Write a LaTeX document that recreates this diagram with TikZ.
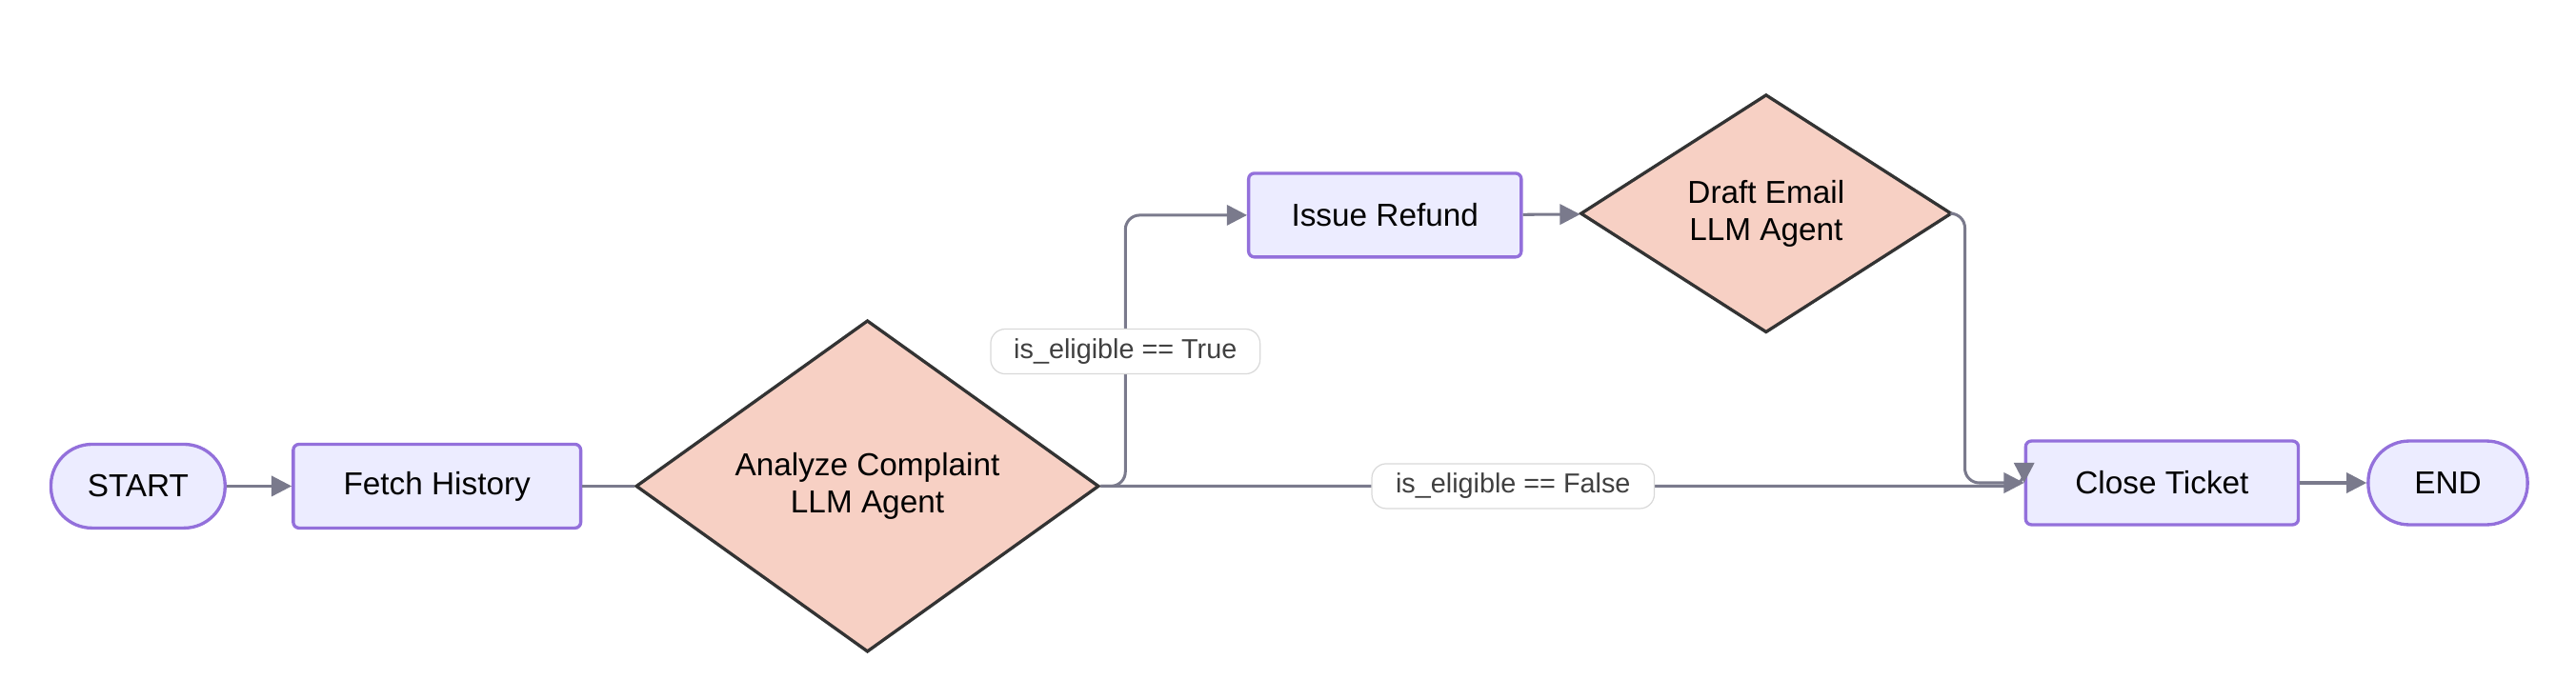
\documentclass[tikz,border=0pt]{standalone}
\usepackage{fontspec}
\setmainfont{Liberation Sans}
\usetikzlibrary{shapes.geometric,arrows.meta}
\definecolor{boxfill}{HTML}{ECECFF}
\definecolor{boxline}{HTML}{9370DB}
\definecolor{decfill}{HTML}{F7D0C4}
\definecolor{edgecol}{HTML}{7A7A8C}
\tikzset{
  task/.style={draw=boxline, fill=boxfill, line width=1.1pt, rounded corners=2pt, minimum width=3.5cm, minimum height=1.02cm, font=\fontsize{11}{13}\selectfont},
  term/.style={draw=boxline, fill=boxfill, line width=1.1pt, rounded corners=0.5cm, minimum height=1.02cm, font=\fontsize{11}{13}\selectfont},
  agent/.style={diamond, draw=black!80, fill=decfill, line width=1.1pt, inner sep=0pt, align=center, font=\fontsize{11}{13}\selectfont},
  cond/.style={draw=black!15, fill=white, rounded corners=5pt, minimum width=3.28cm, minimum height=0.5cm, font=\fontsize{9.5}{11}\selectfont, text=black!75},
  flow/.style={draw=edgecol, line width=1pt, rounded corners=5pt},
  tip/.style={-{Triangle[length=7pt,width=7pt]}}
}
\begin{document}
\begin{tikzpicture}[x=0.02cm, y=-0.02cm]
  \useasboundingbox (0,0) rectangle (1568,426);
  % nodes
  \node[term, minimum width=2.12cm] (start) at (84,296) {START};
  \node[task] (fetch) at (266,296) {Fetch History};
  \node[agent, minimum width=5.64cm, minimum height=3.64cm] (analyze) at (528,296) {Analyze Complaint\\LLM Agent};
  \node[task, minimum width=3.32cm] (refund) at (843,131) {Issue Refund};
  \node[agent, minimum width=4.52cm, minimum height=2.9cm] (draft) at (1075,130) {Draft Email\\LLM Agent};
  \node[task, minimum width=3.32cm] (close) at (1316,294) {Close Ticket};
  \node[term, minimum width=1.94cm] (end) at (1490,294) {END};
  % connectors
  \draw[flow, tip] (start) -- (fetch);
  \draw[flow] (fetch) -- (analyze);
  \draw[flow, tip] (analyze.east) -| (685,131) -- (refund.west);
  \draw[flow, tip] (analyze.east) -- (close.west |- analyze.east) -- (close.west);
  \draw[flow, tip] (refund) -- (draft);
  \draw[flow, tip] (draft.east) -| (1196,294) -- (close.west);
  \draw[flow, tip] (close) -- (end);
  % conditions
  \node[cond] (yes) at (685,214) {is\_eligible == True};
  \node[cond, minimum width=3.44cm] (no) at (921,296) {is\_eligible == False};
\end{tikzpicture}
\end{document}
